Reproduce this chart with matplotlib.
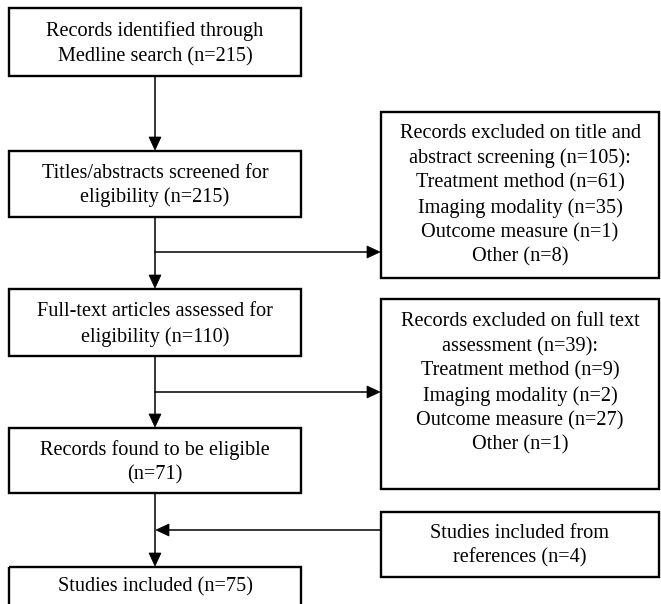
import matplotlib
matplotlib.use("Agg")
import matplotlib.pyplot as plt
from matplotlib.patches import Rectangle, Polygon

# ---- data (text content) ----
main_boxes = [
    "Records identified through\nMedline search (n=215)",
    "Titles/abstracts screened for\neligibility (n=215)",
    "Full-text articles assessed for\neligibility (n=110)",
    "Records found to be eligible\n(n=71)",
    "Studies included (n=75)",
]
excl1_lines = ["Records excluded on title and", "abstract screening (n=105):",
               "Treatment method (n=61)", "Imaging modality (n=35)",
               "Outcome measure (n=1)", "Other (n=8)"]
excl2_lines = ["Records excluded on full text", "assessment (n=39):",
               "Treatment method (n=9)", "Imaging modality (n=2)",
               "Outcome measure (n=27)", "Other (n=1)"]
added_box = "Studies included from\nreferences (n=4)"

# ---- layout (pixel coordinates) ----
W, H = 661, 604
fig = plt.figure(figsize=(W / 100, H / 100), dpi=100)
ax = fig.add_axes([0, 0, 1, 1])
ax.set_xlim(0, W)
ax.set_ylim(H, 0)
ax.axis("off")

FONT = "Liberation Serif"
FS = 14.6
BOX_LW = 1.7
LINE_LW = 1.1

main_x0, main_x1 = 9, 301
main_y = [(8, 76), (151, 217), (289, 356), (428, 493), (567, 620)]
main_text_y = [(31, 57), (173, 197), (312, 337), (450, 475), (587,)]
cx = 155

right_x0, right_x1 = 381, 659
excl1_y = (112, 278)
excl1_ty0 = 134
excl2_y = (299, 489)
excl2_ty0 = 322
added_y = (512, 577)
LS = 24.6


def box(x0, y0, x1, y1):
    ax.add_patch(Rectangle((x0, y0), x1 - x0, y1 - y0, fill=False,
                           lw=BOX_LW, ec="black", clip_on=False))


def arrow_down(x, y_tip):
    ax.add_patch(Polygon([(x - 6, y_tip - 13), (x + 6, y_tip - 13), (x, y_tip)],
                         closed=True, fc="black", ec="black", lw=0.5))


def arrow_right(x_tip, y):
    ax.add_patch(Polygon([(x_tip - 13, y - 6), (x_tip - 13, y + 6), (x_tip, y)],
                         closed=True, fc="black", ec="black", lw=0.5))


def arrow_left(x_tip, y):
    ax.add_patch(Polygon([(x_tip + 13, y - 6), (x_tip + 13, y + 6), (x_tip, y)],
                         closed=True, fc="black", ec="black", lw=0.5))


def txt(x, y, s):
    ax.text(x, y, s, ha="center", va="center", fontsize=FS, family=FONT)


# main boxes
for label, (y0, y1), tys in zip(main_boxes, main_y, main_text_y):
    box(main_x0, y0, main_x1, y1)
    for line, ty in zip(label.split("\n"), tys):
        txt(cx, ty, line)

# vertical connectors
for (a0, a1), (b0, b1) in zip(main_y[:-1], main_y[1:]):
    ax.plot([cx, cx], [a1, b0 - 12], color="black", lw=LINE_LW, solid_capstyle="butt")
    arrow_down(cx, b0 - 1)

# exclusion boxes
rcx = (right_x0 + right_x1) / 2
box(right_x0, excl1_y[0], right_x1, excl1_y[1])
for i, line in enumerate(excl1_lines):
    txt(rcx, excl1_ty0 + i * LS, line)
box(right_x0, excl2_y[0], right_x1, excl2_y[1])
for i, line in enumerate(excl2_lines):
    txt(rcx, excl2_ty0 + i * LS, line)

# branches
for yb in (252, 392):
    ax.plot([cx, right_x0 - 12], [yb, yb], color="black", lw=LINE_LW)
    arrow_right(right_x0 - 1, yb)

# added studies box
box(right_x0, added_y[0], right_x1, added_y[1])
for line, ty in zip(added_box.split("\n"), (533, 558)):
    txt(rcx, ty, line)
ax.plot([cx + 12, right_x0], [530, 530], color="black", lw=LINE_LW)
arrow_left(cx + 1, 530)

fig.savefig("out.png", dpi=100)
